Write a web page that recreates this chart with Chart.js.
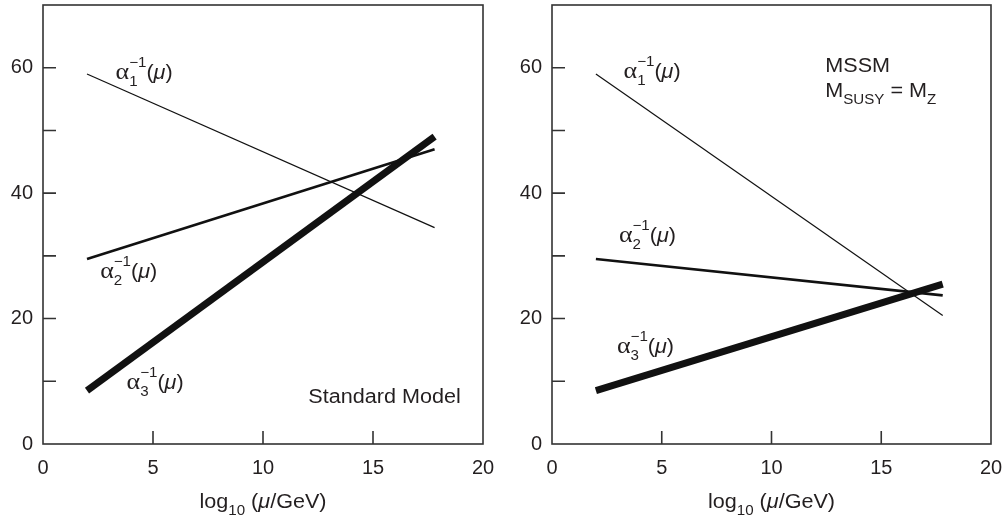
<!DOCTYPE html>
<html>
<head>
<meta charset="utf-8">
<script src="https://cdn.jsdelivr.net/npm/chart.js@4.4.1/dist/chart.umd.min.js"></script>
<style>
  html, body { margin: 0; padding: 0; background: #fff; }
  #wrap { position: relative; width: 1005px; height: 520px; }
  .panel { position: absolute; top: 0; height: 520px; }
  #left { left: 0; width: 503px; }
  #right { left: 503px; width: 502px; }
</style>
</head>
<body>
<div id="wrap">
  <div class="panel" id="left"><canvas id="smChart"></canvas></div>
  <div class="panel" id="right"><canvas id="mssmChart"></canvas></div>
</div>
<script>
// log10(mu/GeV) at the two ends of each running coupling line
const logMu = [2, 17.8];

// Standard Model inverse couplings
const smAlpha1 = [59, 34.5];
const smAlpha2 = [29.5, 47.0];
const smAlpha3 = [8.5, 49.0];

// MSSM (M_SUSY = M_Z) inverse couplings
const mssmAlpha1 = [59, 20.5];
const mssmAlpha2 = [29.5, 23.7];
const mssmAlpha3 = [8.5, 25.5];

// axis ticks
const xTicks = [0, 5, 10, 15, 20];
const yTicks = [0, 10, 20, 30, 40, 50, 60, 70];
const yTickLabels = [0, 20, 40, 60];

const SANS = '"Liberation Sans", Arial, Helvetica, sans-serif';
const SERIF = '"Liberation Serif", "Times New Roman", serif';
const INK = '#231f20';
const FRAME = '#333333';
const SX = 1.08; // the original lettering is slightly wide

function fontOf(p) {
  return (p.italic ? 'italic ' : '') + p.size + 'px ' + (p.serif ? SERIF : SANS);
}

function layoutRich(ctx, parts, draw) {
  let px = 0;
  for (const p of parts) {
    if (p.stack) {
      let adv = 0;
      for (const q of p.stack) {
        ctx.font = fontOf(q);
        if (draw) ctx.fillText(q.text, px, q.dy || 0);
        adv = Math.max(adv, ctx.measureText(q.text).width);
      }
      px += adv;
    } else {
      ctx.font = fontOf(p);
      if (draw) ctx.fillText(p.text, px, p.dy || 0);
      px += ctx.measureText(p.text).width;
    }
  }
  return px;
}

function drawRich(ctx, x, y, parts, align) {
  ctx.save();
  ctx.fillStyle = INK;
  ctx.textAlign = 'left';
  ctx.textBaseline = 'alphabetic';
  const w = layoutRich(ctx, parts, false) * SX;
  ctx.translate(align === 'center' ? x - w / 2 : x, y);
  ctx.scale(SX, 1);
  layoutRich(ctx, parts, true);
  ctx.restore();
}

function alphaLabel(n) {
  return [
    { text: 'α', size: 24, serif: true },
    { stack: [ { text: String(n), size: 14, dy: 7 }, { text: '−1', size: 14, dy: -12 } ] },
    { text: '(', size: 20 },
    { text: 'μ', size: 20, italic: true },
    { text: ')', size: 20 }
  ];
}

const axisTitle = [
  { text: 'log', size: 20 },
  { stack: [ { text: '10', size: 14, dy: 7 } ] },
  { text: ' (', size: 20 },
  { text: 'μ', size: 20, italic: true },
  { text: '/GeV)', size: 20 }
];

const framePlugin = {
  id: 'frame',
  afterDraw(chart, args, opts) {
    const ctx = chart.ctx;
    const a = chart.chartArea;
    const xs = chart.scales.x, ys = chart.scales.y;
    ctx.save();
    ctx.strokeStyle = FRAME;
    ctx.lineWidth = 1.6;
    ctx.strokeRect(a.left, a.top, a.right - a.left, a.bottom - a.top);
    ctx.beginPath();
    yTicks.slice(1, -1).forEach(v => {
      const py = ys.getPixelForValue(v);
      ctx.moveTo(a.left, py);
      ctx.lineTo(a.left + 13, py);
    });
    xTicks.slice(1, -1).forEach(v => {
      const px = xs.getPixelForValue(v);
      ctx.moveTo(px, a.bottom);
      ctx.lineTo(px, a.bottom - 13);
    });
    ctx.stroke();
    ctx.restore();

    (opts.labels || []).forEach(l => {
      drawRich(ctx, xs.getPixelForValue(l.x), ys.getPixelForValue(l.y), l.parts, 'left');
    });
    drawRich(ctx, (a.left + a.right) / 2, 508, axisTitle, 'center');
  }
};

function makeLine(ys, width) {
  return {
    data: logMu.map((x, i) => ({ x: x, y: ys[i] })),
    borderColor: '#111111',
    borderWidth: width,
    borderCapStyle: 'butt',
    pointRadius: 0,
    tension: 0,
    fill: false
  };
}

function makeChart(id, a1, a2, a3, yWidth, padRight, labels) {
  return new Chart(document.getElementById(id), {
    type: 'line',
    data: { datasets: [ makeLine(a1, 1.2), makeLine(a2, 2.6), makeLine(a3, 7) ] },
    options: {
      responsive: true,
      maintainAspectRatio: false,
      animation: false,
      events: [],
      layout: { padding: { top: 5, right: padRight, left: 0, bottom: 0 } },
      plugins: {
        legend: { display: false },
        tooltip: { enabled: false },
        frame: { labels: labels }
      },
      scales: {
        x: {
          type: 'linear',
          min: 0, max: 20,
          afterBuildTicks: s => { s.ticks = xTicks.map(v => ({ value: v })); },
          ticks: { color: INK, padding: 12, font: { family: SANS, size: 20 }, maxRotation: 0 },
          grid: { display: false, drawTicks: false },
          border: { display: false },
          afterFit: s => { s.height = 76; s.paddingLeft = 0; s.paddingRight = 0; }
        },
        y: {
          min: 0, max: 70,
          afterBuildTicks: s => { s.ticks = yTicks.map(v => ({ value: v })); },
          ticks: {
            color: INK, padding: 10, autoSkip: false,
            font: { family: SANS, size: 20 },
            callback: v => yTickLabels.includes(v) ? String(v) : ''
          },
          grid: { display: false, drawTicks: false },
          border: { display: false },
          afterFit: s => { s.width = yWidth; s.paddingTop = 0; s.paddingBottom = 0; }
        }
      }
    },
    plugins: [framePlugin]
  });
}

makeChart('smChart', smAlpha1, smAlpha2, smAlpha3, 43, 20, [
  { x: 3.3, y: 58.2, parts: alphaLabel(1) },
  { x: 2.6, y: 26.5, parts: alphaLabel(2) },
  { x: 3.8, y: 8.8, parts: alphaLabel(3) },
  { x: 12.06, y: 6.6, parts: [ { text: 'Standard Model', size: 20 } ] }
]);

makeChart('mssmChart', mssmAlpha1, mssmAlpha2, mssmAlpha3, 49, 14, [
  { x: 3.26, y: 58.4, parts: alphaLabel(1) },
  { x: 3.05, y: 32.2, parts: alphaLabel(2) },
  { x: 2.96, y: 14.5, parts: alphaLabel(3) },
  { x: 12.45, y: 59.3, parts: [ { text: 'MSSM', size: 20 } ] },
  { x: 12.45, y: 55.4, parts: [
    { text: 'M', size: 20 },
    { stack: [ { text: 'SUSY', size: 14, dy: 7 } ] },
    { text: ' = M', size: 20 },
    { stack: [ { text: 'Z', size: 14, dy: 7 } ] }
  ] }
]);
</script>
</body>
</html>
